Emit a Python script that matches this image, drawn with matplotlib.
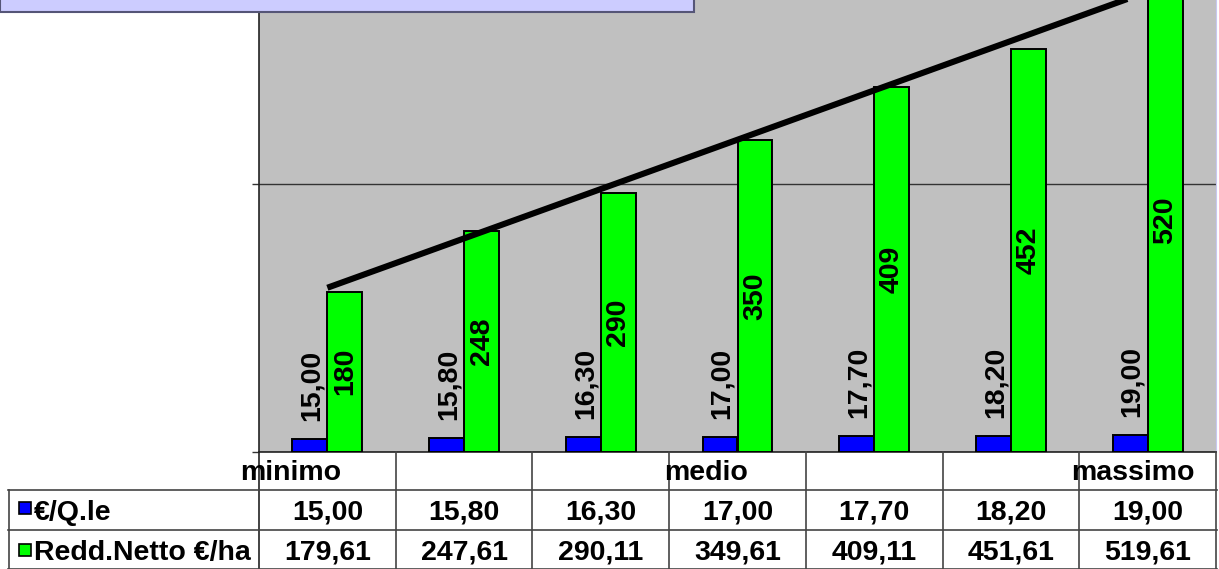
import numpy as np
import matplotlib
matplotlib.use("Agg")
import matplotlib.pyplot as plt
from matplotlib.patches import Rectangle
from matplotlib.lines import Line2D
import matplotlib.transforms as mtrans

# ---------------- data ----------------
categories = ["minimo", "", "", "medio", "", "", "massimo"]
price = [15.00, 15.80, 16.30, 17.00, 17.70, 18.20, 19.00]            # €/Q.le
net_income = [179.61, 247.61, 290.11, 349.61, 409.11, 451.61, 519.61]  # Redd.Netto €/ha
series_names = ["€/Q.le", "Redd.Netto €/ha"]
yticks = [0, 300]

# ---------------- style ----------------
W, H = 1219, 569
DPI = 100
FONT = "Liberation Sans"
FS = 20.5
BLUE = "#0000ff"
GREEN = "#00ff00"
GRAY = "#c0c0c0"

plt.rcParams["font.family"] = [FONT, "DejaVu Sans"]
plt.rcParams["font.weight"] = "bold"

fig = plt.figure(figsize=(W / DPI, H / DPI), dpi=DPI)


def fx(x):
    return x / W


def fy(y):
    return 1 - y / H


ax_left, ax_right, ax_bottom, ax_top = 259, 1216, 452, 0
ax = fig.add_axes([fx(ax_left), fy(ax_bottom), fx(ax_right - ax_left), (ax_bottom - ax_top) / H])
ax.set_facecolor(GRAY)

n = len(categories)
x = np.arange(n)
bw = 0.256

ax.bar(x - bw / 2, price, width=bw, color=BLUE, edgecolor="black", linewidth=1.4, zorder=3)
ax.bar(x + bw / 2, net_income, width=bw, color=GREEN, edgecolor="black", linewidth=1.4, zorder=3)

ax.set_xlim(-0.5, n - 0.5)
ax.set_ylim(0, 506)
ax.set_yticks(yticks)
ax.set_yticklabels([])
ax.set_xticks([])
ax.tick_params(axis="y", direction="out", length=5, width=1, color="#333333")
ax.grid(axis="y", color="#333333", linewidth=1, zorder=1)
ax.set_axisbelow(True)
ax.spines["top"].set_visible(False)
ax.spines["right"].set_color("#c8c8f0")
ax.spines["left"].set_color("#222222")
ax.spines["bottom"].set_color("#222222")
ax.spines["left"].set_linewidth(1.2)
ax.spines["bottom"].set_linewidth(1.2)

# linear trendline of the net income series
coef = np.polyfit(x, net_income, 1)
ax.plot([x[0], x[-1]], np.polyval(coef, [x[0], x[-1]]), color="black", linewidth=4.4,
        zorder=5, solid_capstyle="butt")

# value labels
for xi, v in zip(x, price):
    ax.annotate(f"{v:.2f}".replace(".", ","), (xi - bw / 2 + 0.015, v), xytext=(0, 13),
                textcoords="offset points", rotation=90, ha="center", va="bottom",
                fontsize=FS, fontweight="bold", color="black", zorder=6)
for xi, v in zip(x, net_income):
    ax.text(xi + bw / 2, v / 2, f"{v:.0f}", rotation=90, ha="center", va="center",
            fontsize=FS, fontweight="bold", color="black", zorder=6)

# ---------------- data table below ----------------
blend = mtrans.blended_transform_factory(ax.transData, fig.transFigure)
lc = "#444444"
lw = 1.2

# vertical column separators
for k in range(n + 1):
    xb = -0.5 + k
    col = "#222222" if k == 0 else lc
    fig.add_artist(Line2D([xb, xb], [fy(452), fy(569)], transform=blend, color=col, lw=lw))
# horizontal lines
for yy in [490, 530, 568.5]:
    fig.add_artist(Line2D([fx(8), fx(1217)], [fy(yy), fy(yy)], transform=fig.transFigure,
                          color=lc, lw=lw))
fig.add_artist(Line2D([fx(8.5), fx(8.5)], [fy(490), fy(569)], transform=fig.transFigure,
                      color=lc, lw=lw))

# header row (category labels), left edges offset from category centre (pixels)
cat_offsets_px = [-87, 0, 0, -73, 0, 0, -77]
for xi, c, off in zip(x, categories, cat_offsets_px):
    if c:
        tr = mtrans.blended_transform_factory(
            mtrans.offset_copy(ax.transData, fig=fig, x=off, y=0, units="dots"), fig.transFigure)
        fig.text(xi, fy(480), c, transform=tr, ha="left", va="baseline",
                 fontsize=FS, fontweight="bold")

# value rows
for xi, v in zip(x, price):
    fig.text(xi, fy(520), f"{v:.2f}".replace(".", ","), transform=blend, ha="center",
             va="baseline", fontsize=FS, fontweight="bold")
for xi, v in zip(x, net_income):
    fig.text(xi, fy(560), f"{v:.2f}".replace(".", ","), transform=blend, ha="center",
             va="baseline", fontsize=FS, fontweight="bold")

# row headers with legend keys
for (name, col, ybase, ysq) in [(series_names[0], BLUE, 520, 502), (series_names[1], GREEN, 560, 544)]:
    fig.add_artist(Rectangle((fx(19), fy(ysq + 12)), fx(12), 12 / H, transform=fig.transFigure,
                             facecolor=col, edgecolor="black", lw=1.2))
    fig.text(fx(34), fy(ybase), name, ha="left", va="baseline", fontsize=FS, fontweight="bold")

# top (cut-off) title box
fig.add_artist(Rectangle((fx(0), fy(12)), fx(694), 12 / H + 0.01, transform=fig.transFigure,
                         facecolor="#ccccff", edgecolor="#555577", lw=1.5, zorder=10))

fig.savefig("out.png", dpi=DPI)
